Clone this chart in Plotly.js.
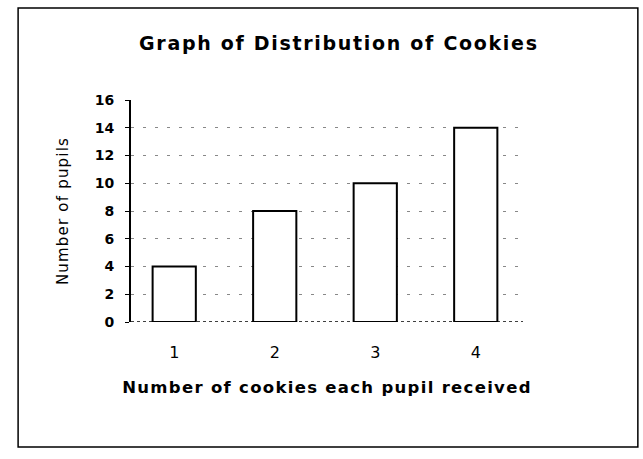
<!DOCTYPE html>
<html>
<head>
<meta charset="utf-8">
<script src="https://cdn.plot.ly/plotly-3.0.1.min.js"></script>
<style>
  html, body { margin: 0; padding: 0; background: #fff; }
  #chart { width: 643px; height: 459px; }
  #chart .gtitle { letter-spacing: 1.7px; }
  #chart .xtitle { letter-spacing: 1.3px; }
  #chart .ytitle { letter-spacing: 1.2px; }
</style>
</head>
<body>
<div id="chart"></div>
<script>
// Data
const categories = ["1", "2", "3", "4"];
const pupils = [4, 8, 10, 14];
const yTickValues = [0, 2, 4, 6, 8, 10, 12, 14, 16];
const chartTitle = "Graph of Distribution of Cookies";
const xTitle = "Number of cookies each pupil received";
const yTitle = "Number of pupils";

const font = "DejaVu Sans, Verdana, sans-serif";

const trace = {
  type: "bar",
  x: categories,
  y: pupils,
  width: 0.43,
  marker: { color: "#ffffff", line: { color: "#000000", width: 2 } },
  hoverinfo: "x+y"
};

const layout = {
  width: 643,
  height: 459,
  paper_bgcolor: "#ffffff",
  plot_bgcolor: "#ffffff",
  margin: { l: 131, r: 120, t: 100, b: 137, pad: 0 },
  showlegend: false,
  title: {
    text: chartTitle,
    font: { family: font, size: 19, color: "#000", weight: "bold" },
    xref: "container", yref: "container",
    x: 0.527, xanchor: "center",
    y: 0.905, yanchor: "middle"
  },
  xaxis: {
    type: "category",
    range: [-0.43, 3.47],
    showline: false,
    showgrid: false,
    zeroline: false,
    ticks: "",
    ticklabelstandoff: 19,
    tickfont: { family: font, size: 16, color: "#000" },
    title: { text: xTitle, font: { family: font, size: 16.5, color: "#000", weight: "bold" }, standoff: 20 },
    automargin: true,
    fixedrange: true
  },
  yaxis: {
    range: [0, 16],
    tickvals: yTickValues,
    showline: true,
    linecolor: "#000",
    linewidth: 2,
    ticks: "outside",
    ticklen: 4,
    tickcolor: "#000",
    tickwidth: 1,
    ticklabelstandoff: 8,
    showgrid: true,
    gridcolor: "#888",
    gridwidth: 1,
    griddash: "3px,9px",
    zeroline: false,
    tickfont: { family: font, size: 14, color: "#000", weight: "bold" },
    title: { text: yTitle, font: { family: font, size: 15, color: "#000" }, standoff: 22 },
    automargin: true,
    fixedrange: true
  },
  shapes: [
    // dotted baseline along y = 0
    { type: "line", xref: "paper", yref: "y", x0: 0, x1: 1, y0: 0, y1: 0,
      line: { color: "#000", width: 1.5, dash: "dot" }, layer: "below" },
    // outer frame of the chart box
    { type: "rect", xref: "paper", yref: "paper",
      x0: -0.288, x1: 1.293, y0: -0.563, y1: 1.414,
      line: { color: "#000", width: 1.5 }, fillcolor: "rgba(0,0,0,0)" }
  ]
};

Plotly.newPlot("chart", [trace], layout, { displayModeBar: false, staticPlot: true });
</script>
</body>
</html>
